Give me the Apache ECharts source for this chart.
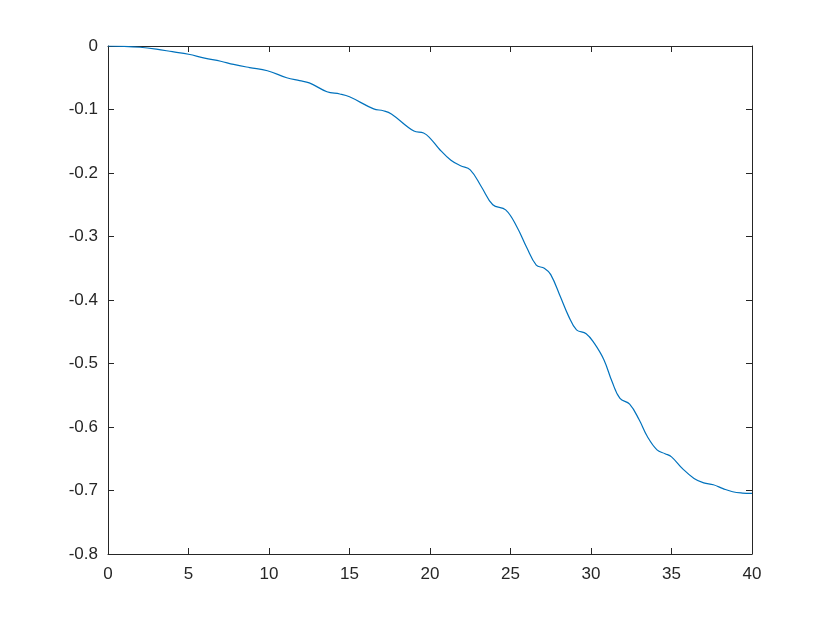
<!DOCTYPE html>
<html>
<head>
<meta charset="utf-8">
<script src="https://cdn.jsdelivr.net/npm/echarts@6/dist/echarts.min.js"></script>
<style>
  html, body { margin: 0; padding: 0; background: #fff; }
  #chart { width: 830px; height: 623px; }
</style>
</head>
<body>
<div id="chart"></div>
<script>
// curve
var xs = [0, 1, 2, 3, 4, 5, 6, 7, 7.8, 8.8, 9.9, 11.1, 11.9, 12.5, 13.6, 14.4, 15, 16.5, 17.1, 17.6,
  19.0, 19.6, 20.0, 20.6, 21.3, 21.9, 22.5, 23.2, 23.9, 24.7, 25.4, 26.0, 26.6, 27.1, 27.5,
  28.1, 28.6, 29.1, 29.7, 30.2, 30.8, 31.3, 31.8, 32.4, 33.0, 33.5, 34.1, 34.6, 35.0, 35.7,
  36.4, 37.0, 37.6, 38.2, 38.8, 39.4, 40];
var ys = [0, -0.0005, -0.002, -0.005, -0.009, -0.013, -0.019, -0.024, -0.029, -0.034, -0.039,
  -0.050, -0.0546, -0.058, -0.072, -0.0756, -0.080, -0.099, -0.102, -0.107,
  -0.134, -0.137, -0.145, -0.163, -0.180, -0.1885, -0.195, -0.222, -0.250, -0.258, -0.285,
  -0.317, -0.345, -0.350, -0.360, -0.395, -0.425, -0.447, -0.453, -0.468, -0.494, -0.528,
  -0.555, -0.564, -0.589, -0.615, -0.636, -0.642, -0.647, -0.666, -0.681, -0.688, -0.691,
  -0.697, -0.702, -0.704, -0.7045];

var axisColor = '#262626';
var labelStyle = { color: axisColor, fontSize: 17, fontFamily: 'Liberation Sans, Arial, sans-serif' };

var chart = echarts.init(document.getElementById('chart'));
var pts = xs.map(function (x, i) { return [x, ys[i]]; });

function xAxisOpt(pos, showLabel) {
  return {
    type: 'value', position: pos, min: 0, max: 40, interval: 5,
    axisLine: { show: true, onZero: false, lineStyle: { color: axisColor, width: 1 } },
    axisTick: { show: true, inside: true, length: 6, lineStyle: { color: axisColor } },
    axisLabel: Object.assign({ show: showLabel, margin: 12 }, labelStyle),
    splitLine: { show: false }
  };
}
function yAxisOpt(pos, showLabel) {
  return {
    type: 'value', position: pos, min: -0.8, max: 0, interval: 0.1,
    axisLine: { show: true, onZero: false, lineStyle: { color: axisColor, width: 1 } },
    axisTick: { show: true, inside: true, length: 6, lineStyle: { color: axisColor } },
    axisLabel: Object.assign({ show: showLabel, margin: 10, padding: [5, 0, 0, 0],
      formatter: function (v) { return v === 0 ? '0' : v.toFixed(1); } }, labelStyle),
    splitLine: { show: false }
  };
}

chart.setOption({
  animation: false,
  backgroundColor: '#fff',
  grid: { left: 108, top: 46, right: 78, bottom: 69, containLabel: false },
  xAxis: [xAxisOpt('bottom', true), xAxisOpt('top', false)],
  yAxis: [yAxisOpt('left', true), yAxisOpt('right', false)],
  series: [{
    type: 'line',
    data: pts,
    smooth: 0.4,
    showSymbol: false,
    lineStyle: { color: '#0072BD', width: 1.2 }
  }]
});
</script>
</body>
</html>
